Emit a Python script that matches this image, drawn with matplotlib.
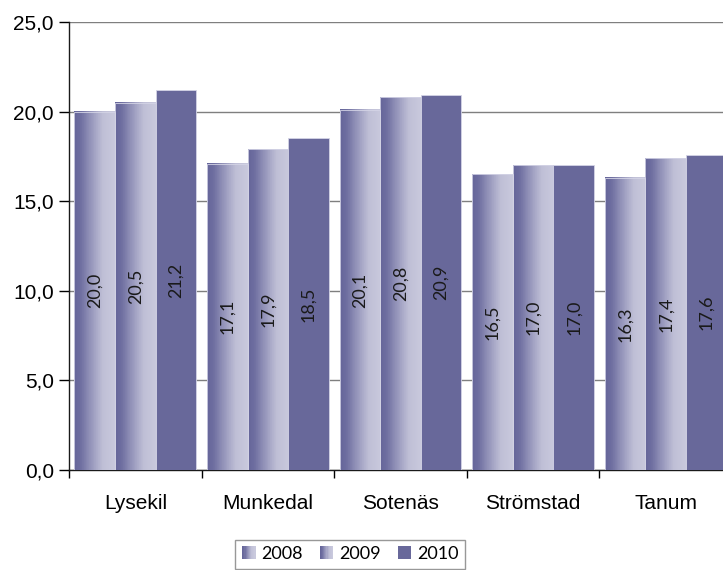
import numpy as np
import matplotlib

matplotlib.use("Agg")
import matplotlib.pyplot as plt
from matplotlib.colors import LinearSegmentedColormap
from matplotlib.legend_handler import HandlerBase
from matplotlib.patches import Rectangle

municipalities = ["Lysekil", "Munkedal", "Sotenäs", "Strömstad", "Tanum"]
years = ["2008", "2009", "2010"]
values_2008 = [20.0, 17.1, 20.1, 16.5, 16.3]
values_2009 = [20.5, 17.9, 20.8, 17.0, 17.4]
values_2010 = [21.2, 18.5, 20.9, 17.0, 17.6]
y_ticks = [0, 5, 10, 15, 20, 25]

DARK = "#68689a"
EDGE = "#d4d4e6"
grad_cmap = LinearSegmentedColormap.from_list(
    "bar_grad",
    [(0.0, "#66669a"), (0.15, "#6e6ea0"), (0.4, "#9494ba"),
     (0.7, "#bfbfd6"), (1.0, "#c9c9dd")],
)


def fill_gradient(ax, patch):
    x0, y0 = patch.get_x(), patch.get_y()
    w, h = patch.get_width(), patch.get_height()
    grad = np.linspace(0, 1, 64).reshape(1, -1)
    ax.imshow(grad, cmap=grad_cmap, aspect="auto", extent=[x0, x0 + w, y0, y0 + h],
              origin="lower", zorder=patch.get_zorder() - 0.1, interpolation="nearest")
    patch.set_facecolor("none")


class GradientHandler(HandlerBase):
    def __init__(self, gradient):
        super().__init__()
        self.gradient = gradient

    def create_artists(self, legend, orig_handle, xdescent, ydescent, width, height,
                       fontsize, trans):
        size = min(width, height) * 0.95
        x0 = -xdescent + (width - size) / 2
        y0 = -ydescent + (height - size) / 2
        if not self.gradient:
            return [Rectangle((x0, y0), size, size, facecolor=DARK, edgecolor="none",
                              transform=trans)]
        n = 12
        arts = []
        for i in range(n):
            arts.append(Rectangle((x0 + i * size / n, y0), size / n + 0.3, size,
                                  facecolor=grad_cmap(i / (n - 1)), edgecolor="none",
                                  transform=trans))
        return arts


fig = plt.figure(figsize=(7.23, 5.70), dpi=100)
ax = fig.add_axes([0.0955, 0.1754, 0.917, 0.786])

x = np.arange(len(municipalities))
bw = 0.306
series = [values_2008, values_2009, values_2010]
for i, vals in enumerate(series):
    bars = ax.bar(x + (i - 1) * bw, vals, bw, color=DARK, edgecolor=EDGE,
                  linewidth=0.6, zorder=3)
    for patch, v in zip(bars, vals):
        if i < 2:
            fill_gradient(ax, patch)
        ax.text(patch.get_x() + patch.get_width() / 2, v / 2,
                f"{v:.1f}".replace(".", ","), rotation=90, ha="center", va="center",
                fontsize=13, family="Lato", color="#1a1a1a", zorder=5)

ax.set_xlim(-0.5, len(municipalities) - 0.5)
ax.set_ylim(0, 25)
ax.set_yticks(y_ticks, labels=[f"{t:.1f}".replace(".", ",") for t in y_ticks],
              fontsize=15, family="Liberation Sans")
ax.set_xticks(x, labels=municipalities, fontsize=15, family="Liberation Sans")
ax.set_xticks(np.arange(len(municipalities) + 1) - 0.5, minor=True)
ax.tick_params(axis="x", which="major", length=0, pad=17)
ax.tick_params(axis="x", which="minor", length=6, width=1)
ax.tick_params(axis="y", length=7, width=1, pad=4)
ax.yaxis.grid(True, color="#7f7f7f", linewidth=1, zorder=0)
ax.set_axisbelow(True)
for side in ["top", "right"]:
    ax.spines[side].set_visible(False)
for side in ["left", "bottom"]:
    ax.spines[side].set_color("#1a1a1a")
    ax.spines[side].set_linewidth(1)

handles = [Rectangle((0, 0), 1, 1) for _ in years]
fig.legend(handles, years, loc="upper center", bbox_to_anchor=(0.484, 0.056 + 0.013),
           ncol=3, frameon=True, fancybox=False, edgecolor="#7f7f7f",
           prop={"family": "Lato", "size": 13}, handlelength=0.8, handleheight=0.8,
           handletextpad=0.3, columnspacing=0.9, borderpad=0.35,
           handler_map={handles[0]: GradientHandler(True),
                        handles[1]: GradientHandler(True),
                        handles[2]: GradientHandler(False)})

fig.savefig("out.png", dpi=100)
